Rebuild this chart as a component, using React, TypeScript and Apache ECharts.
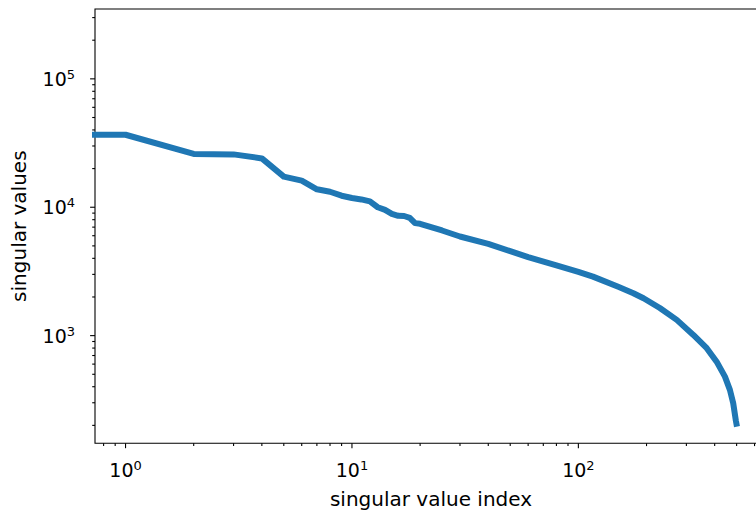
import React, { useEffect, useRef } from "react";
import * as echarts from "echarts";

// singular value index (x) and singular value (y)
const indices = [1, 2, 3, 4, 5, 6, 7, 8, 9, 10, 11, 12, 13, 14, 15, 16, 17, 18, 19, 20, 25, 30, 40, 50, 60, 80, 100, 116, 150, 175, 194, 229, 272, 322, 369, 408, 444, 467, 483, 492, 496, 499];
const singularValues = [36700, 26000, 25800, 24000, 17300, 16100, 13800, 13200, 12300, 11800, 11500, 11100, 10000, 9550, 8890, 8580, 8550, 8270, 7520, 7430, 6590, 5920, 5190, 4550, 4090, 3520, 3140, 2880, 2400, 2140, 1956, 1641, 1326, 1013, 798, 627, 479, 378, 297, 240, 218, 206];

// axis ranges (log scale)
const X_MIN = 0.733;
const X_MAX = 681;
const Y_MIN = 145;
const Y_MAX = 350000;

// ticks
const xMajorTicks = [1, 10, 100];
const xMinorTicks = [0.8, 0.9, 2, 3, 4, 5, 6, 7, 8, 9, 20, 30, 40, 50, 60, 70, 80, 90, 200, 300, 400, 500, 600];
const yMajorTicks = [1000, 10000, 100000];
const yMinorTicks = [200, 300, 400, 500, 600, 700, 800, 900, 2000, 3000, 4000, 5000, 6000, 7000, 8000, 9000, 20000, 30000, 40000, 50000, 60000, 70000, 80000, 90000, 200000, 300000];

const FONT = "DejaVu Sans";
const INK = "#000";

function supLabel(v: number): string {
  const l = Math.log10(v);
  const e = Math.round(l);
  if (Math.abs(l - e) > 1e-6) return "";
  return `{b|10}{s|${e}}`;
}

const richLabel = {
  b: { fontSize: 19, fontFamily: FONT, color: INK, lineHeight: 22 },
  s: { fontSize: 13, fontFamily: FONT, color: INK, lineHeight: 14, verticalAlign: "top" },
};

function tickSeries(values: number[], dir: "x" | "y", len: number) {
  return {
    type: "custom",
    silent: true,
    clip: false,
    z: 10,
    data: values.map((v) => (dir === "x" ? [v, Y_MIN] : [X_MIN, v])),
    renderItem: (_params: any, api: any) => {
      const p = api.coord([api.value(0), api.value(1)]);
      const shape =
        dir === "x"
          ? { x1: p[0], y1: p[1], x2: p[0], y2: p[1] + len }
          : { x1: p[0], y1: p[1], x2: p[0] - len, y2: p[1] };
      return { type: "line", shape, style: { stroke: INK, lineWidth: 1.1 } };
    },
  };
}

export default function App() {
  const ref = useRef<HTMLDivElement>(null);
  useEffect(() => {
    if (!ref.current) return;
    const chart = echarts.init(ref.current, null, { renderer: "svg" });
    // index 0 lies at -infinity on a log axis, so the line enters from the axis edge
    const lineData: [number, number][] = [[X_MIN, singularValues[0]]];
    indices.forEach((ix, i) => lineData.push([ix, singularValues[i]]));
    chart.setOption({
      animation: false,
      backgroundColor: "#fff",
      grid: {
        left: 95,
        top: 9,
        width: 672,
        height: 434.3,
        show: true,
        borderColor: INK,
        borderWidth: 1.1,
        backgroundColor: "transparent",
        outerBoundsMode: "none",
        containLabel: false,
      },
      xAxis: {
        type: "log",
        min: X_MIN,
        max: X_MAX,
        name: "singular value index",
        nameLocation: "middle",
        nameGap: 46,
        nameTextStyle: { fontSize: 20, fontFamily: FONT, color: INK },
        axisLine: { show: false },
        axisTick: { show: false },
        splitLine: { show: false },
        axisLabel: { formatter: supLabel, margin: 16, rich: richLabel },
      },
      yAxis: {
        type: "log",
        min: Y_MIN,
        max: Y_MAX,
        name: "singular values",
        nameLocation: "middle",
        nameGap: 66,
        nameTextStyle: { fontSize: 20, fontFamily: FONT, color: INK },
        axisLine: { show: false },
        axisTick: { show: false },
        splitLine: { show: false },
        axisLabel: { formatter: supLabel, margin: 20, rich: richLabel },
      },
      series: [
        {
          type: "line",
          data: lineData,
          showSymbol: false,
          lineStyle: { color: "#1f77b4", width: 6, cap: "square", join: "round" },
          z: 5,
        },
        tickSeries(xMajorTicks, "x", 4.9),
        tickSeries(xMinorTicks, "x", 2.8),
        tickSeries(yMajorTicks, "y", 4.9),
        tickSeries(yMinorTicks, "y", 2.8),
      ],
    });
    return () => chart.dispose();
  }, []);
  return (
    <div
      ref={ref}
      style={{ position: "fixed", left: 0, top: 0, width: 756, height: 515, background: "#fff" }}
    />
  );
}
